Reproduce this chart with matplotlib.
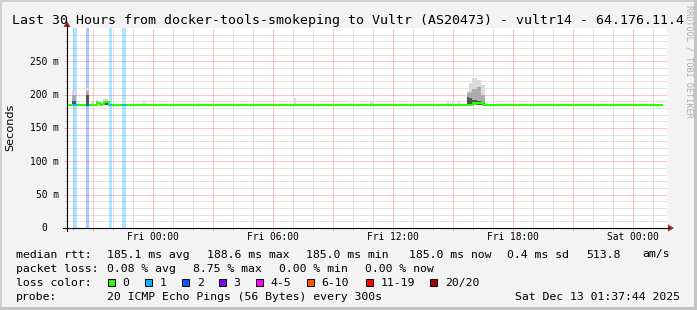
import numpy as np
import matplotlib.pyplot as plt
import matplotlib.transforms as mtransforms
from matplotlib.patches import Rectangle, Polygon
from matplotlib.lines import Line2D

W, H = 697, 310
MONO = 'DejaVu Sans Mono'

title = 'Last 30 Hours from docker-tools-smokeping to Vultr (AS20473) - vultr14 - 64.176.11.4'

# hours, 0 = Fri 00:00
x_range = (-4.3, 25.7)
y_range = (0, 300)
xtick_hours = [0, 6, 12, 18, 24]
xtick_labels = ['Fri 00:00', 'Fri 06:00', 'Fri 12:00', 'Fri 18:00', 'Sat 00:00']
ytick_ms = [0, 50, 100, 150, 200, 250]
ytick_labels = ['0', '50 m', '100 m', '150 m', '200 m', '250 m']

# median rtt in ms (step values)
median_t = [-4.3, -2.85, -2.8, -2.7, -2.65, -2.55, -2.45, -2.3, -2.2,
            15.95, 16.0, 16.1, 16.15, 16.4, 16.5, 25.5]
median_ms = [185, 185, 188, 187, 184, 186, 189, 189, 185,
             185, 188, 186, 188, 187, 185, 185]

# packet loss periods (hours) and loss class
loss_t0 = [-3.98, -3.35, -2.2, -1.57]
loss_t1 = [-3.82, -3.22, -2.07, -1.37]
loss_class = [1, 2, 1, 1]

# smoke: start, end, top of light / mid / dark band (ms)
smoke_t0 = [-4.05, -3.35, -3.1, -2.85, -2.7, -2.5, -1.55, -0.5, 2.3, 7.05, 9.85, 10.85,
            14.7, 14.95, 15.25, 15.7, 15.8, 15.95, 16.2, 16.4, 16.6, 17.65]
smoke_t1 = [-3.85, -3.2, -3.0, -2.75, -2.6, -2.25, -1.4, -0.4, 2.4, 7.15, 9.95, 11.0,
            14.8, 15.05, 15.35, 15.8, 15.95, 16.2, 16.4, 16.6, 16.75, 17.75]
smoke_light = [207, 210, 191, 192, 188, 193, 190, 190, 187, 195, 188, 189,
               189, 190, 190, 206, 217, 225, 222, 214, 188, 187]
smoke_mid = [199, 206, 185, 190, 185, 190, 185, 185, 185, 185, 185, 185,
             185, 185, 185, 202, 204, 208, 212, 199, 186, 185]
smoke_dark = [190, 200, 185, 185, 185, 188, 185, 185, 185, 185, 185, 185,
              185, 185, 185, 196, 195, 192, 190, 188, 185, 185]
smoke_base = 184

loss_names = ['0', '1', '2', '3', '4-5', '6-10', '11-19', '20/20']
loss_colors = ['#26ff00', '#00b8ff', '#0059ff', '#7e00ff', '#ff00ff', '#ff5500', '#ff0000', '#a10000']

rtt_stats = ['185.1 ms avg', '188.6 ms max', '185.0 ms min', '185.0 ms now', '0.4 ms sd', '513.8', 'am/s']
loss_stats = ['0.08 % avg', '8.75 % max', '0.00 % min', '0.00 % now']
probe_text = '20 ICMP Echo Pings (56 Bytes) every 300s'
stamp = 'Sat Dec 13 01:37:44 2025'


def fp(x, y):
    return x / W, 1 - y / H


fig = plt.figure(figsize=(W / 100, H / 100), dpi=100, facecolor='#f3f3f3')

# frame
for x, y, w, h in [(0, 0, W, 2), (0, 0, 2, H)]:
    fig.patches.append(Rectangle(fp(x, y + h), w / W, h / H, transform=fig.transFigure,
                                 color='#d0d0d0', lw=0))
for x, y, w, h in [(0, H - 3, W, 3), (W - 3, 0, 3, H)]:
    fig.patches.append(Rectangle(fp(x, y + h), w / W, h / H, transform=fig.transFigure,
                                 color='#c4c4c4', lw=0))

ax = fig.add_axes([67 / W, 1 - 228 / H, 600 / W, 200 / H])
ax.set_facecolor('white')
ax.set_xlim(*x_range)
ax.set_ylim(*y_range)
for s in ax.spines.values():
    s.set_visible(False)

# grid drawn by hand, red major lines over grey minor ones
minor_x = np.arange(-4, 25.7, 1)
major_x = np.arange(-3, 25.7, 3)
minor_y = np.arange(10, 300, 10)
major_y = np.arange(50, 300, 50)
minor_kw = dict(lw=0.72, ls=(0, (1, 1)), snap=True, color='#c8c8c8', zorder=0.5)
major_kw = dict(lw=0.72, ls=(0, (1, 1)), snap=True, color='#ff0000', alpha=0.45, zorder=0.6)
for v in minor_x:
    if v not in major_x:
        ax.axvline(v, **minor_kw)
for v in minor_y:
    if v not in major_y:
        ax.axhline(v, **minor_kw)
for v in major_x:
    ax.axvline(v, **major_kw)
for v in major_y:
    ax.axhline(v, **major_kw)

ax.set_xticks(major_x)
ax.set_xticks(minor_x, minor=True)
ax.set_yticks(major_y)
ax.set_yticks(minor_y, minor=True)
ax.grid(False, which='both')
ax.tick_params(which='both', labelleft=False, labelbottom=False, direction='out', width=0.72)
ax.tick_params(which='major', length=2.2, color='#f09a9a')
ax.tick_params(which='minor', length=1.5, color='#b8b8b8')

# loss bars
for t0, t1, c in zip(loss_t0, loss_t1, loss_class):
    ax.axvspan(t0, t1, color=loss_colors[c], alpha=0.33, lw=0, zorder=1)

# smoke
for t0, t1, lt, md, dk in zip(smoke_t0, smoke_t1, smoke_light, smoke_mid, smoke_dark):
    ax.fill_between([t0, t1], max(md, dk), lt, color='#dadada', lw=0, zorder=2)
    if md > dk:
        ax.fill_between([t0, t1], dk, md, color='#ababab', lw=0, zorder=2)
    if dk > smoke_base + 1:
        ax.fill_between([t0, t1], smoke_base, dk, color='#555555', lw=0, zorder=2)

# median
ax.plot(median_t, median_ms, drawstyle='steps-post', color='#26ff00', lw=1.5,
        solid_capstyle='butt', zorder=3)
for t0, t1, c in zip(loss_t0, loss_t1, loss_class):
    m = np.interp(t0, median_t, median_ms)
    ax.plot([t0, t1], [m, m], color=loss_colors[c], lw=1.5, solid_capstyle='butt', zorder=4)

# tick labels
xoff = mtransforms.offset_copy(ax.get_xaxis_transform(), fig=fig, x=0, y=-12.5, units='dots')
for t, lab in zip(xtick_hours, xtick_labels):
    ax.text(t, 0, lab, transform=xoff, ha='center', va='baseline', family=MONO, fontsize=6.9)
for v, lab in zip(ytick_ms, ytick_labels):
    dx = -8.4 if ' m' in lab else -19.8
    yoff = mtransforms.offset_copy(ax.get_yaxis_transform(), fig=fig, x=dx, y=-3.4, units='dots')
    ax.text(0, v, lab, transform=yoff, ha='right', va='baseline', family=MONO, fontsize=6.9)

# axis lines with arrows
fig.lines.append(Line2D([63 / W, 668 / W], [1 - 228 / H] * 2, transform=fig.transFigure,
                        color='black', lw=0.8))
fig.lines.append(Line2D([67 / W] * 2, [1 - 231 / H, 1 - 25 / H], transform=fig.transFigure,
                        color='black', lw=0.8))
fig.patches.append(Polygon([fp(668, 224.5), fp(668, 231.5), fp(674, 228)], closed=True,
                           transform=fig.transFigure, color='#a02020', lw=0))
fig.patches.append(Polygon([fp(63.5, 27), fp(70.5, 27), fp(67, 21)], closed=True,
                           transform=fig.transFigure, color='#a02020', lw=0))

# titles
fig.text(*fp(348, 24), title, ha='center', va='baseline', family=MONO, fontsize=9.57)
fig.text(*fp(10, 127), 'Seconds', rotation=90, ha='center', va='center',
         family='DejaVu Sans', fontsize=8.1)
fig.text(*fp(688.5, 61), 'RRDTOOL / TOBI OETIKER', rotation=270, ha='center', va='center',
         family=MONO, fontsize=6.1, color='#b0b0b0')

# legend
LF = 8.25
rows = [257.5, 271.7, 285.8, 300]
fig.text(*fp(16, rows[0]), 'median rtt:', family=MONO, fontsize=LF, va='baseline')
for x, s in zip([107.3, 207.3, 306, 408.7, 507, 586.3, 642], rtt_stats):
    fig.text(*fp(x, rows[0]), s, family=MONO, fontsize=LF, va='baseline')

fig.text(*fp(16, rows[1]), 'packet loss:', family=MONO, fontsize=LF, va='baseline')
for x, s in zip([107.3, 193.3, 278.7, 365.3], loss_stats):
    fig.text(*fp(x, rows[1]), s, family=MONO, fontsize=LF, va='baseline')

fig.text(*fp(16, rows[2]), 'loss color:', family=MONO, fontsize=LF, va='baseline')
for x, name, c in zip([108.3, 145.3, 182.3, 219.3, 256.3, 306.7, 366, 430.3], loss_names, loss_colors):
    fig.patches.append(Rectangle(fp(x, 286), 7 / W, 7 / H, transform=fig.transFigure,
                                 facecolor=c, edgecolor='black', lw=0.72))
    fig.text(*fp(x + 14.4, rows[2]), name, family=MONO, fontsize=LF, va='baseline')

fig.text(*fp(16, rows[3]), 'probe:', family=MONO, fontsize=LF, va='baseline')
fig.text(*fp(107.3, rows[3]), probe_text, family=MONO, fontsize=LF, va='baseline')
fig.text(*fp(680, rows[3]), stamp, family=MONO, fontsize=LF, va='baseline', ha='right')

fig.savefig('out.png', dpi=100, facecolor=fig.get_facecolor())
